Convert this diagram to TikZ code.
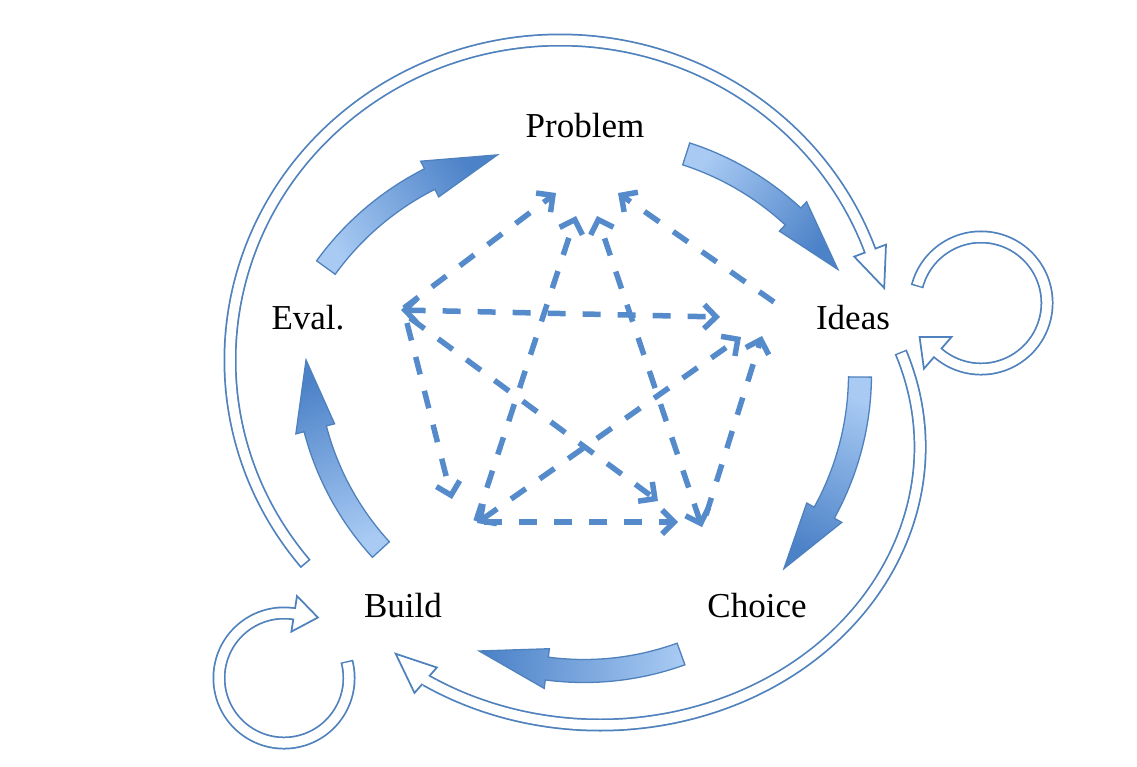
\documentclass[tikz,border=0pt]{standalone}
\usepackage{fontspec}
\setmainfont{Liberation Serif}
\usetikzlibrary{arrows.meta,calc}
\definecolor{edge}{RGB}{79,129,189}
\definecolor{dashc}{RGB}{86,139,203}
\definecolor{lightb}{RGB}{168,202,243}
\definecolor{darkb}{RGB}{76,130,200}
\tikzset{
  lab/.style={font=\fontsize{35}{40}\selectfont, anchor=base, inner sep=0pt},
  dl/.style={draw=dashc, line width=5.5pt, dash pattern=on 18pt off 17pt},
  tipE/.style={-{Straight Barb[length=12pt,width=24pt]}},
  tipB/.style={{Straight Barb[length=12pt,width=24pt]}-{Straight Barb[length=12pt,width=24pt]}},
  band/.style={draw=edge, line width=13pt},
  bandin/.style={draw=white, line width=9.5pt},
  hollowhead/.style={draw=edge, fill=white, line width=1.75pt, line join=miter},
  blk/.style={draw=edge, line width=1.3pt, line join=miter, top color=darkb, bottom color=lightb}
}
% block curved arrow: cx, cy, R, tail angle, junction angle, tip angle, shading angle
\newcommand\blkarrow[7]{%
  \path[blk, shading angle=#7]
   ($(#1,#2)+(#4:#3+11.5)$) arc[start angle=#4, end angle=#5, radius=#3+11.5]
   -- ($(#1,#2)+(#5:#3+20)$) -- ($(#1,#2)+(#6:#3)$) -- ($(#1,#2)+(#5:#3-20)$)
   -- ($(#1,#2)+(#5:#3-11.5)$) arc[start angle=#5, end angle=#4, radius=#3-11.5] -- cycle;}
\begin{document}
\begin{tikzpicture}[x=1pt,y=-1pt]
\useasboundingbox (0,0) rectangle (1137,766);

% labels
\node[lab] (problem) at (585,137) {Problem};
\node[lab] (ideas) at (853,329) {Ideas};
\node[lab] (eval) at (308,329) {Eval.};
\node[lab] (build) at (403,617) {Build};
\node[lab] (choice) at (757,617) {Choice};

% block gradient arrows
\blkarrow{560}{437}{289}{-144.1}{-116.8}{-102.5}{-58}
\blkarrow{598}{427}{287}{-72.1}{-47.2}{-33.3}{-128}
\blkarrow{573}{374}{287}{0.6}{28.9}{42.7}{-203}
\blkarrow{584}{386}{285}{70.1}{97.5}{111.6}{87}
\blkarrow{591}{357}{285}{137.5}{165.4}{179.4}{20}

% outer hollow arc A (Build side -> Ideas)
\coordinate (aT) at ($(560,360)+(140.4:330 and 320)$);
\coordinate (aTip) at (884.2,288.0);
\coordinate (aB1) at (886.0,244.6);
\coordinate (aB2) at (854.2,256.6);
\draw[band] (aT) arc[start angle=140.4, end angle=340, x radius=330, y radius=320];
\draw[hollowhead] (aB1) -- (aTip) -- (aB2) -- cycle;
\draw[bandin] ($(560,360)+(140.7:330 and 320)$) arc[start angle=140.7, end angle=340.4, x radius=330, y radius=320];

% outer hollow arc B (Ideas side -> Build)
\coordinate (bT) at ($(600,447)+(-20:320 and 278)$);
\coordinate (bTip) at (395.7,653.8);
\coordinate (bB1) at (436.9,667.5);
\coordinate (bB2) at (414.5,692.9);
\draw[band] (bT) arc[start angle=-20, end angle=123, x radius=320, y radius=278];
\draw[hollowhead] (bB1) -- (bTip) -- (bB2) -- cycle;
\draw[bandin] ($(600,447)+(-19.7:320 and 278)$) arc[start angle=-19.7, end angle=123.4, x radius=320, y radius=278];

% loop at Ideas
\coordinate (iT) at ($(981,303)+(194.4:66)$);
\coordinate (iTip) at (919.6,337.1);
\coordinate (iB1) at (951.5,337.0);
\coordinate (iB2) at (923.9,368.7);
\draw[band] (iT) arc[start angle=194.4, end angle=491, radius=66];
\draw[hollowhead] (iB1) -- (iTip) -- (iB2) -- cycle;
\draw[bandin] ($(981,303)+(195.7:66)$) arc[start angle=195.7, end angle=492.3, radius=66];

% loop at Build
\coordinate (lT) at ($(284,678)+(-15:65)$);
\coordinate (lTip) at (317.9,617.5);
\coordinate (lB1) at (291.4,631.6);
\coordinate (lB2) at (297.0,596.0);
\draw[band] (lT) arc[start angle=-15, end angle=279, radius=65];
\draw[hollowhead] (lB1) -- (lTip) -- (lB2) -- cycle;
\draw[bandin] ($(284,678)+(-13.7:65)$) arc[start angle=-13.7, end angle=280.3, radius=65];

% dashed graph
\coordinate (e1) at (404,308);  \coordinate (p1) at (556,193);
\coordinate (i1) at (774,302);  \coordinate (p2) at (618,193);
\coordinate (b1) at (476,521);  \coordinate (p3) at (576,216);
\coordinate (c1) at (702,527);  \coordinate (p4) at (597,216);
\coordinate (e2) at (401,310);  \coordinate (i2) at (720,317);
\coordinate (b2) at (477,523);  \coordinate (i3) at (741,337);
\coordinate (c2) at (706,515);  \coordinate (i4) at (762,336);
\coordinate (e3) at (407,323);  \coordinate (b3) at (452,499);
\coordinate (e4) at (410,318);  \coordinate (c3) at (658,501);
\coordinate (b4) at (484,522);  \coordinate (c4) at (678,522);

\draw[dl, tipE] (e1) -- (p1);
\draw[dl, tipE] (i1) -- (p2);
\draw[dl, tipE] (b1) -- (p3);
\draw[dl, tipB] (c1) -- (p4);
\draw[dl, tipB] (e2) -- (i2);
\draw[dl, tipB] (b2) -- (i3);
\draw[dl, tipE] (c2) -- (i4);
\draw[dl, tipE] (e3) -- (b3);
\draw[dl, tipE] (e4) -- (c3);
\draw[dl, tipE] (b4) -- (c4);
\end{tikzpicture}
\end{document}
